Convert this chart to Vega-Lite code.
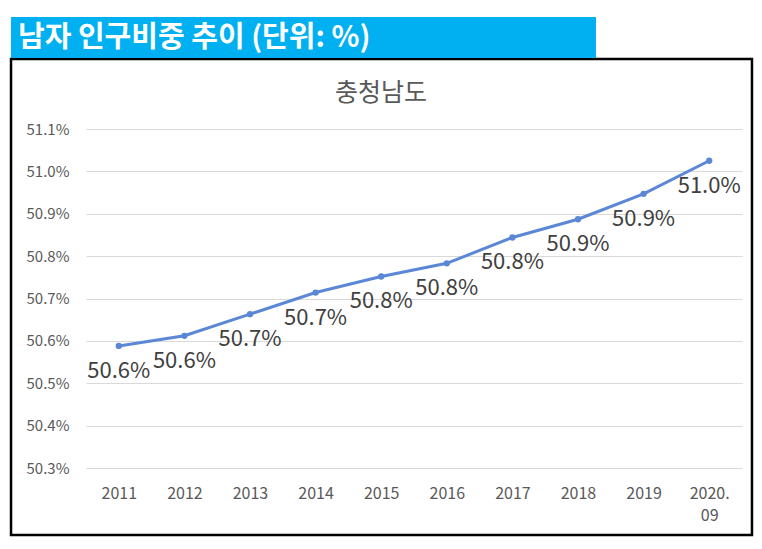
{
  "$schema": "https://vega.github.io/schema/vega-lite/v6.json",
  "width": 656,
  "height": 339,
  "autosize": {"type": "none"},
  "padding": {"left": 86, "top": 129, "right": 20, "bottom": 81},
  "background": "white",
  "config": {
    "view": {"stroke": null},
    "font": "Noto Sans CJK KR"
  },
  "resolve": {"scale": {"x": "independent", "y": "independent"}, "axis": {"x": "independent", "y": "independent"}},
  "layer": [
    {
      "data": {"values": [{"box": "frame"}]},
      "mark": {"type": "rect", "fill": null, "stroke": "black", "strokeWidth": 2.5},
      "encoding": {
        "x": {"datum": -0.1143, "type": "quantitative", "scale": {"domain": [0, 1]}, "axis": null},
        "x2": {"datum": 1.0152},
        "y": {"datum": -0.2065, "type": "quantitative", "scale": {"domain": [0, 1], "reverse": true}, "axis": null},
        "y2": {"datum": 1.1976}
      }
    },
    {
      "data": {"values": [{"header": "남자 인구비중 추이 (단위: %)"}]},
      "layer": [
        {
          "mark": {"type": "rect", "fill": "#00B0F0"},
          "encoding": {
            "x": {"datum": -0.1143, "type": "quantitative", "scale": {"domain": [0, 1]}, "axis": null},
            "x2": {"datum": 0.7774},
            "y": {"datum": -0.3304, "type": "quantitative", "scale": {"domain": [0, 1], "reverse": true}, "axis": null},
            "y2": {"datum": -0.2094}
          }
        },
        {
          "mark": {"type": "text", "align": "left", "baseline": "middle", "fontSize": 29, "fontWeight": "bold", "color": "white", "font": "Noto Sans CJK KR"},
          "encoding": {
            "x": {"datum": -0.1037, "type": "quantitative", "scale": {"domain": [0, 1]}, "axis": null},
            "y": {"datum": -0.268, "type": "quantitative", "scale": {"domain": [0, 1], "reverse": true}, "axis": null},
            "text": {"field": "header"}
          }
        }
      ]
    },
    {
      "data": {"values": [{"title": "충청남도"}]},
      "mark": {"type": "text", "align": "center", "baseline": "middle", "fontSize": 25, "color": "#595959", "font": "Noto Sans CJK KR"},
      "encoding": {
        "x": {"datum": 0.4497, "type": "quantitative", "scale": {"domain": [0, 1]}, "axis": null},
        "y": {"datum": -0.106, "type": "quantitative", "scale": {"domain": [0, 1], "reverse": true}, "axis": null},
        "text": {"field": "title"}
      }
    },
    {
      "data": {"values": [
        {"year": "2011", "ratio": 0.50588},
        {"year": "2012", "ratio": 0.50612},
        {"year": "2013", "ratio": 0.50663},
        {"year": "2014", "ratio": 0.50714},
        {"year": "2015", "ratio": 0.50752},
        {"year": "2016", "ratio": 0.50783},
        {"year": "2017", "ratio": 0.50844},
        {"year": "2018", "ratio": 0.50887},
        {"year": "2019", "ratio": 0.50947},
        {"year": "2020.09", "ratio": 0.51025}
      ]},
      "encoding": {
        "x": {
          "field": "year", "type": "ordinal", "sort": null,
          "scale": {"type": "point", "padding": 0.5},
          "axis": {
            "title": null, "labelAngle": 0, "domain": false, "ticks": false,
            "labelPadding": 17, "labelFontSize": 16, "labelColor": "#595959",
            "labelFont": "Noto Sans CJK KR", "labelLineHeight": 22,
            "labelExpr": "datum.label == '2020.09' ? ['2020.', '09'] : datum.label"
          }
        },
        "y": {
          "field": "ratio", "type": "quantitative",
          "scale": {"domain": [0.503, 0.511], "nice": false, "zero": false},
          "axis": {
            "title": null, "format": ".1%", "values": [0.503, 0.504, 0.505, 0.506, 0.507, 0.508, 0.509, 0.510, 0.511],
            "domain": false, "ticks": false, "labelPadding": 17, "labelFontSize": 15,
            "labelColor": "#595959", "labelFont": "Noto Sans CJK KR",
            "grid": true, "gridColor": "#D9D9D9", "gridWidth": 1
          }
        }
      },
      "layer": [
        {
          "mark": {"type": "line", "color": "#5B87D6", "strokeWidth": 3,
            "point": {"filled": true, "size": 40, "color": "#5B87D6"}}
        },
        {
          "mark": {"type": "text", "align": "center", "baseline": "middle", "dy": 25, "fontSize": 22, "color": "#404040", "font": "Noto Sans CJK KR"},
          "encoding": {"text": {"field": "ratio", "type": "quantitative", "format": ".1%"}}
        }
      ]
    }
  ]
}
